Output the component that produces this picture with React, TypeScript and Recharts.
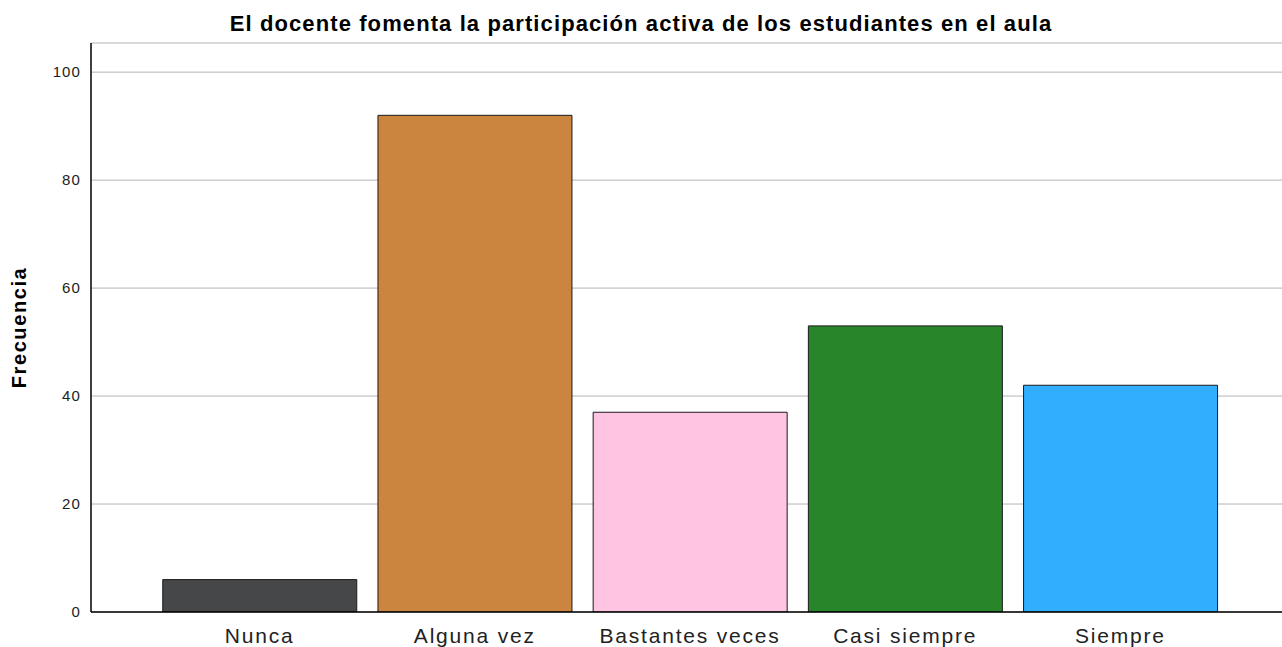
import React from "react";
import { BarChart, Bar, XAxis, YAxis, CartesianGrid, Cell, Label } from "recharts";

const categories = ["Nunca", "Alguna vez", "Bastantes veces", "Casi siempre", "Siempre"];
const frequencies = [6, 92, 37, 53, 42];
const colors = ["#464749", "#CC853F", "#FEC4E2", "#29852A", "#31AEFE"];
const yTicks = [0, 20, 40, 60, 80, 100];
const title = "El docente fomenta la participación activa de los estudiantes en el aula";
const yLabel = "Frecuencia";

const data = categories.map((c, i) => ({ name: c, value: frequencies[i] }));

const font = "'Liberation Sans', Arial, sans-serif";

export default function App() {
  return (
    <div style={{ position: "absolute", left: 0, top: 0, width: 1282, height: 647, background: "#fff", fontFamily: font }}>
      <div
        style={{
          position: "absolute",
          left: 0,
          top: 11,
          width: 1282,
          textAlign: "center",
          fontWeight: "bold",
          fontSize: 22,
          lineHeight: "26px",
          color: "#000",
          fontFamily: font,
          letterSpacing: 1.1,
        }}
      >
        {title}
      </div>
      <BarChart
        width={1282}
        height={647}
        data={data}
        margin={{ top: 43, right: 0, bottom: 0, left: 0 }}
        barCategoryGap="5%"
      >
        <CartesianGrid vertical={false} stroke="#b4b4b4" strokeWidth={1} />
        <XAxis
          dataKey="name"
          height={35}
          padding={{ left: 61, right: 54 }}
          tickLine={false}
          axisLine={{ stroke: "#000", strokeWidth: 1.5 }}
          tick={{ fill: "#222", fontSize: 21, fontFamily: font, letterSpacing: 1.8 }}
          tickMargin={10}
          interval={0}
        />
        <YAxis
          width={91}
          domain={[0, 105.4]}
          ticks={yTicks}
          allowDataOverflow
          tickLine={false}
          axisLine={{ stroke: "#000", strokeWidth: 1.5 }}
          tick={{ fill: "#222", fontSize: 15, fontFamily: font, letterSpacing: 1.1 }}
          tickMargin={4}
        >
          <Label
            value={yLabel}
            angle={-90}
            position="insideLeft"
            offset={19}
            style={{ fontSize: 20, fontWeight: "bold", fill: "#000", fontFamily: font, textAnchor: "middle", letterSpacing: 1.6 }}
          />
        </YAxis>
        <Bar dataKey="value" isAnimationActive={false} stroke="#1a1a1a" strokeWidth={1}>
          {data.map((d, i) => (
            <Cell key={d.name} fill={colors[i]} />
          ))}
        </Bar>
      </BarChart>
    </div>
  );
}
